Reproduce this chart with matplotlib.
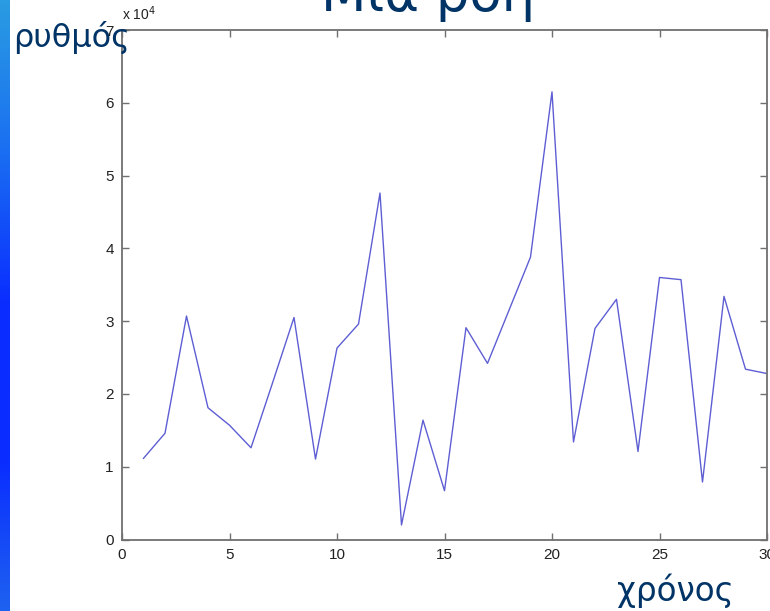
"""
Slide-style line chart: one flow's rate over time (MATLAB-like axes box).
"""

import matplotlib as mpl
mpl.use("Agg")
import matplotlib.pyplot as plt
import numpy as np
from matplotlib.colors import LinearSegmentedColormap
from matplotlib.ticker import FuncFormatter

# ---------------------------------------------------------------- data -----
time_steps = list(range(1, 31))
rate = [11150, 14600, 30700, 18100, 15700, 12600, 21500, 30500, 11050, 26300,
        29600, 47600, 2000, 16400, 6700, 29100, 24200, 31500, 38800, 61500,
        13400, 29000, 33000, 12100, 36000, 35700, 7900, 33400, 23400, 22800]

x_ticks = [0, 5, 10, 15, 20, 25, 30]
y_ticks = [0, 10000, 20000, 30000, 40000, 50000, 60000, 70000]

TITLE = "Μια ροή"
Y_LABEL = "ρυθμός"
X_LABEL = "χρόνος"

# ---------------------------------------------------------------- style ----
COLOR_NAVY = "#003366"
COLOR_LINE = "#5e5ed4"
COLOR_AXIS = "#707070"
COLOR_TICKTEXT = "#222222"

mpl.rcParams.update({
    "font.family": "DejaVu Sans",
    "figure.facecolor": "white",
    "axes.facecolor": "white",
})

W, H = 770, 611
fig = plt.figure(figsize=(W / 100, H / 100), dpi=100)

# left gradient bar of the slide
bar = fig.add_axes([0, 0, 10 / W, 1])
cmap_bar = LinearSegmentedColormap.from_list(
    "bar", ["#2a9ce2", "#1a6ef2", "#0a2cff", "#0a2cff", "#1e62f0"])
bar.imshow(np.linspace(0, 1, 256).reshape(-1, 1), aspect="auto", cmap=cmap_bar)
bar.set_axis_off()

# main axes
ax = fig.add_axes([122 / W, 1 - 539.5 / H, (767 - 122) / W, (539.5 - 30) / H])
ax.plot(time_steps, rate, color=COLOR_LINE, linewidth=1.0)
ax.set_xlim(0, 30)
ax.set_ylim(0, 70000)
ax.set_xticks(x_ticks)
ax.set_yticks(y_ticks)
ax.yaxis.set_major_formatter(FuncFormatter(lambda v, p: f"{v / 1e4:g}"))
ax.tick_params(direction="in", length=5, width=1.0, color=COLOR_AXIS,
               labelsize=11, labelcolor=COLOR_TICKTEXT,
               top=True, right=True, pad=6)
for lbl in ax.get_xticklabels() + ax.get_yticklabels():
    lbl.set_fontfamily("Liberation Sans")
for sp in ax.spines.values():
    sp.set_color(COLOR_AXIS)
    sp.set_linewidth(1.3)

ax.text(0.0, 1.014, "x 10$^4$", transform=ax.transAxes, fontsize=10,
        family="Liberation Sans", color=COLOR_TICKTEXT, ha="left", va="bottom")

# slide texts
fig.text(428 / W, 1 - 11 / H, TITLE, fontsize=38, color=COLOR_NAVY,
         ha="center", va="baseline")
fig.text(13 / W, 1 - 47 / H, Y_LABEL, fontsize=23, color=COLOR_NAVY,
         ha="left", va="baseline")
fig.text(617 / W, 1 - 601 / H, X_LABEL, fontsize=23.5, color=COLOR_NAVY,
         ha="left", va="baseline")

fig.savefig("out.png", dpi=100)
